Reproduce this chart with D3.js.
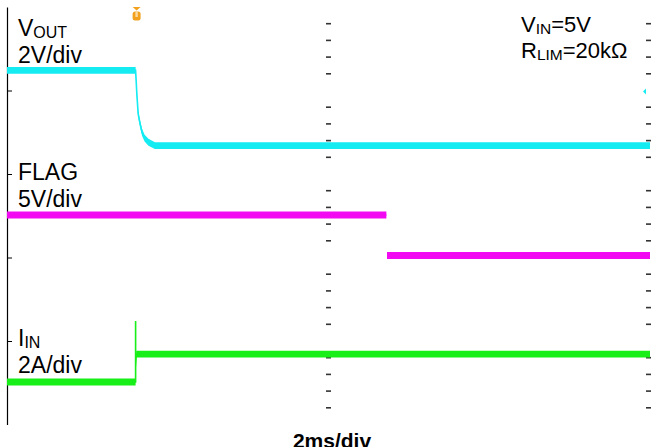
<!DOCTYPE html>
<html>
<head>
<meta charset="utf-8">
<script src="https://cdn.jsdelivr.net/npm/d3@7"></script>
<style>
  html, body { margin: 0; padding: 0; background: #fff; }
  svg { display: block; font-family: "Liberation Sans", Arial, sans-serif; }
</style>
</head>
<body>
<svg id="chart" width="654" height="447"></svg>
<script>
// ---- data (time in ms, values in screen divisions from bottom) ----
const vOutTime = [0, 2.0, 2.02, 2.04, 2.07, 2.1, 2.14, 2.2, 2.3, 10];
const vOutDiv  = [4.242, 4.242, 3.95, 3.72, 3.6, 3.5, 3.43, 3.38, 3.341, 3.341];
const flagTime = [0, 5.9, 5.905, 5.91, 10];
const flagDiv  = [2.509, 2.509, null, 2.024, 2.024];
const iInTime  = [0, 2.0, 2.0, 2.0, 2.01, 10];
const iInDiv   = [0.509, 0.509, 1.24, 0.677, 0.844, 0.844];
const majorDivs = [1, 2, 3, 4];
const minorDivs = d3.range(1, 25).filter(i => i % 5 !== 0).map(i => i / 5);
const triggerTime = 2.0;
const refMarkerDiv = 4.0;
const timeLabel = "2ms/div";

const svg = d3.select("#chart");
const x = d3.scaleLinear().domain([0, 10]).range([7, 650]);
const y = d3.scaleLinear().domain([0, 5]).range([424.5, 7]);

// left axis
svg.append("g")
  .attr("transform", `translate(${x(0)},0)`)
  .call(d3.axisRight(y).tickValues(majorDivs).tickSize(5).tickSizeOuter(0).tickFormat(""))
  .call(g => g.select(".domain").attr("stroke", "#000").attr("stroke-width", 1.2))
  .call(g => g.selectAll(".tick line").attr("stroke", "#000").attr("stroke-width", 1));

// minor ticks at center and right
[5, 10].forEach(t => {
  svg.append("g").selectAll("rect")
    .data(minorDivs)
    .join("rect")
    .attr("x", x(t) - (t === 10 ? 4 : 2.5))
    .attr("y", d => y(d) - 0.8)
    .attr("width", 5)
    .attr("height", 1.6)
    .attr("fill", "#333");
});

// traces
const traces = [
  { t: vOutTime, v: vOutDiv, color: "#14ECF2" },
  { t: flagTime, v: flagDiv, color: "#F20AF2" },
  { t: iInTime, v: iInDiv, color: "#18EE18" }
];
const half = 3.4;
traces.forEach(tr => {
  const pts = tr.t.map((t, i) => ({ t, v: tr.v[i] }));
  const area = d3.area()
    .defined(d => d.v !== null)
    .x(d => x(d.t))
    .y0(d => y(d.v) - half)
    .y1(d => y(d.v) + half);
  const line = d3.line()
    .defined(d => d.v !== null)
    .x(d => x(d.t))
    .y(d => y(d.v));
  svg.append("path").datum(pts).attr("d", area).attr("fill", tr.color);
  svg.append("path").datum(pts).attr("d", line)
    .attr("fill", "none").attr("stroke", tr.color).attr("stroke-width", 1.6);
});

// trigger marker (orange)
const tx = x(triggerTime) + 1;
svg.append("path")
  .attr("d", `M${tx - 4},7 L${tx + 4},7 L${tx},10.5 Z`)
  .attr("fill", "#F2A11E");
svg.append("rect")
  .attr("x", tx - 4).attr("y", 11.5).attr("width", 8).attr("height", 9).attr("rx", 2.5)
  .attr("fill", "#F2A11E");
svg.append("rect")
  .attr("x", tx - 1.2).attr("y", 11.5).attr("width", 2.4).attr("height", 5.5)
  .attr("fill", "#FBD9A0");

// right reference marker (cyan)
svg.append("path")
  .attr("d", `M${x(10) - 7},${y(refMarkerDiv) + 1} L${x(10) - 4},${y(refMarkerDiv) - 2} L${x(10) - 4},${y(refMarkerDiv) + 4} Z`)
  .attr("fill", "#14ECF2");

// labels
function label(xp, yp, main, sub, rest, size, subSize) {
  const t = svg.append("text").attr("x", xp).attr("y", yp)
    .attr("font-size", size).attr("fill", "#000");
  t.append("tspan").text(main);
  if (sub) {
    t.append("tspan").attr("font-size", subSize).attr("dy", 1.5).text(sub);
    if (rest) t.append("tspan").attr("dy", -1.5).text(rest);
  }
}
label(18, 36, "V", "OUT", null, 23, 16);
label(18, 63, "2V/div", null, null, 23);
label(18, 180, "FLAG", null, null, 23);
label(18, 207, "5V/div", null, null, 23);
label(18, 346, "I", "IN", null, 23, 16);
label(18, 373, "2A/div", null, null, 23);
label(521, 32, "V", "IN", "=5V", 22, 15.5);
label(521, 58, "R", "LIM", "=20kΩ", 22, 15.5);

svg.append("text")
  .attr("x", 332).attr("y", 448)
  .attr("text-anchor", "middle")
  .attr("font-size", 21).attr("font-weight", "bold")
  .text(timeLabel);
</script>
</body>
</html>
